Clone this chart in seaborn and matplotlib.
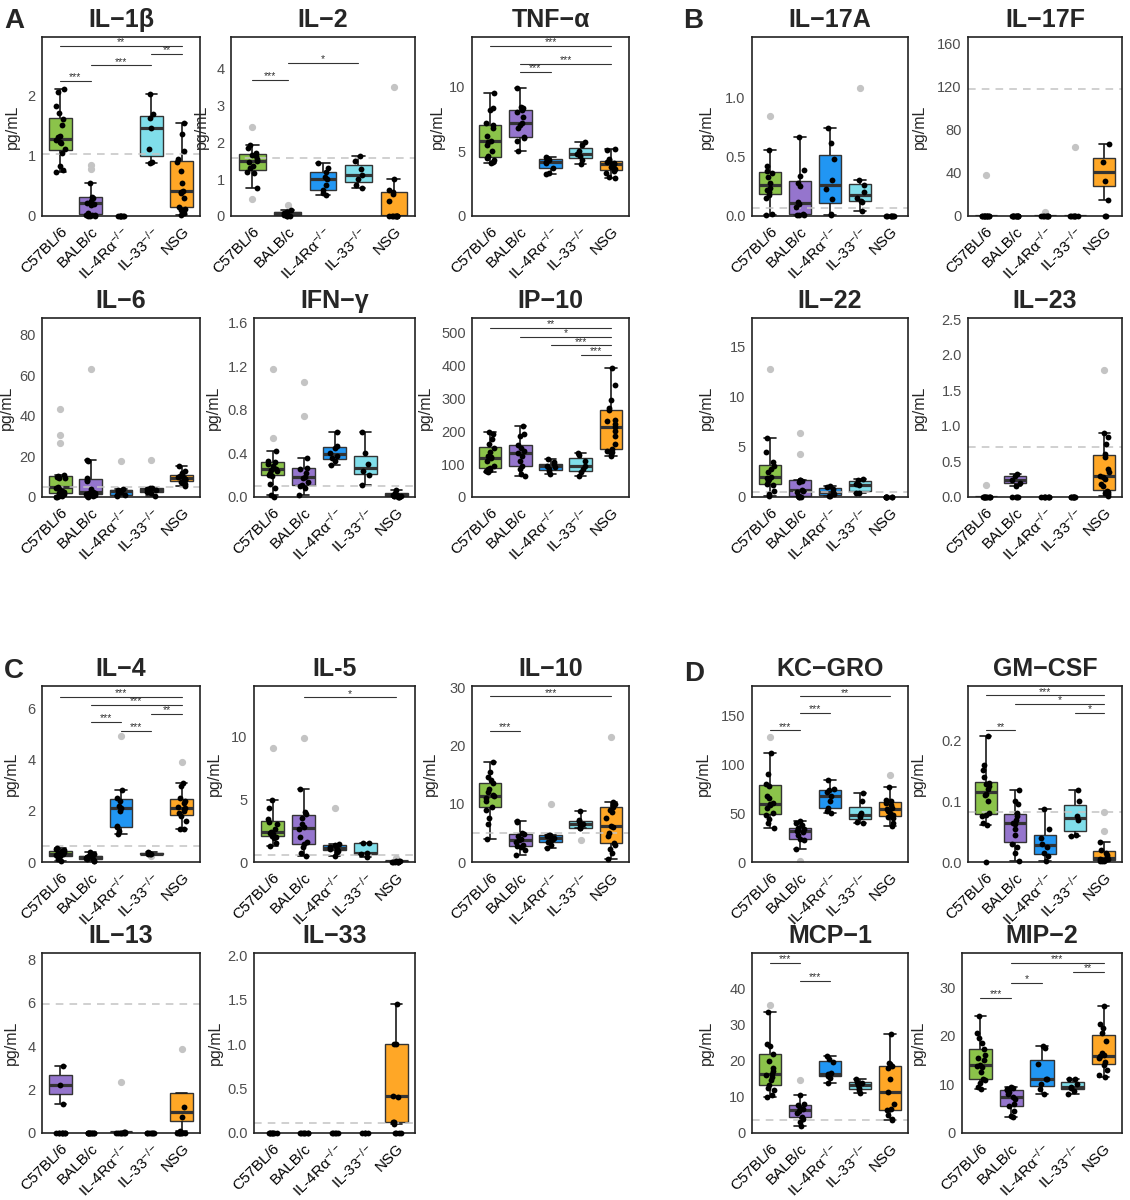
import numpy as np
import pandas as pd
import matplotlib.pyplot as plt
import seaborn as sns
from matplotlib.ticker import FormatStrFormatter

sns.set_style("white")
plt.rcParams["font.family"] = ["Liberation Sans", "DejaVu Sans"]
plt.rcParams["mathtext.fontset"] = "custom"
plt.rcParams["mathtext.rm"] = "Liberation Sans"
plt.rcParams["mathtext.it"] = "Liberation Sans"

np.random.seed(7)

groups = ["C57BL/6", "BALB/c", "IL-4Ra-/-", "IL-33-/-", "NSG"]
group_labels = ["C57BL/6", "BALB/c", "IL-4Rα$^{-/-}$", "IL-33$^{-/-}$", "NSG"]
colors = ["#8BC34A", "#9575CD", "#2196F3", "#80DEEA", "#FFA726"]

# ---- values (pg/mL), one list per strain ----
il1b = [
    [0.72, 0.76, 0.82, 1.05, 1.1, 1.2, 1.22, 1.25, 1.3, 1.32, 1.5, 1.6, 1.7, 1.82, 2.05, 2.1],
    [0, 0, 0.005, 0.01, 0.015, 0.02, 0.05, 0.18, 0.2, 0.22, 0.25, 0.3, 0.32, 0.55, 0.78, 0.85],
    [0, 0, 0, 0, 0, 0, 0],
    [0.87, 0.9, 1.1, 1.45, 1.62, 1.68, 2.02],
    [0.01, 0.05, 0.1, 0.12, 0.15, 0.3, 0.38, 0.4, 0.42, 0.55, 0.75, 0.9, 0.95, 1.07, 1.35, 1.53],
]
il2 = [
    [0.45, 0.75, 1.15, 1.2, 1.3, 1.35, 1.45, 1.5, 1.55, 1.62, 1.65, 1.7, 1.85, 1.93, 2.4],
    [0, 0.005, 0.01, 0.02, 0.03, 0.05, 0.07, 0.08, 0.1, 0.12, 0.17, 0.3],
    [0.57, 0.62, 0.7, 0.85, 1.0, 1.05, 1.2, 1.3, 1.43],
    [0.75, 0.85, 1.0, 1.1, 1.28, 1.5, 1.62],
    [0.01, 0.01, 0.01, 0.01, 0.01, 0.01, 0.01, 0.01, 0.4, 0.6, 0.65, 0.7, 1.0, 3.48],
]
tnfa = [
    [4.05, 4.2, 4.3, 4.5, 4.6, 5.0, 5.5, 5.7, 5.8, 6.2, 6.8, 7.0, 7.2, 8.2, 8.3, 9.5],
    [5.0, 5.8, 6.0, 6.1, 6.8, 7.0, 7.2, 7.6, 8.0, 8.2, 8.3, 8.4, 9.85],
    [3.25, 3.3, 3.7, 4.1, 4.2, 4.3, 4.4, 4.5, 4.55],
    [4.0, 4.3, 4.6, 4.75, 5.0, 5.5, 5.7],
    [2.95, 3.0, 3.3, 3.5, 3.6, 3.8, 3.9, 4.0, 4.0, 4.1, 4.2, 4.3, 4.4, 5.1, 5.15],
]
il6 = [
    [0, 0, 0.3, 0.5, 0.8, 1.5, 2.0, 2.5, 3.0, 4.0, 4.6, 5.0, 9.3, 9.6, 10.0, 10.4, 10.7, 26.6, 30.4, 43.5],
    [0, 0.3, 0.6, 0.9, 1.2, 1.5, 1.8, 2.0, 2.5, 4.0, 8.0, 8.5, 9.5, 18.0, 18.4, 63.2],
    [0.3, 0.8, 1.2, 2.5, 3.0, 3.5, 4.0, 17.7],
    [0.3, 1.8, 2.5, 3.3, 3.8, 4.2, 4.5, 18.1],
    [5.5, 6.5, 7.0, 7.5, 8.5, 9.0, 9.0, 9.5, 10.0, 10.5, 11.0, 12.0, 13.0, 15.5],
]
ifng = [
    [0, 0.02, 0.08, 0.12, 0.19, 0.2, 0.22, 0.24, 0.25, 0.26, 0.28, 0.3, 0.32, 0.33, 0.42, 0.54, 1.17],
    [0.02, 0.08, 0.1, 0.11, 0.14, 0.17, 0.18, 0.22, 0.26, 0.27, 0.36, 0.74, 1.05],
    [0.29, 0.33, 0.36, 0.38, 0.4, 0.45, 0.47, 0.6],
    [0.11, 0.2, 0.24, 0.3, 0.4, 0.6],
    [0, 0, 0, 0.005, 0.008, 0.01, 0.015, 0.02, 0.03, 0.04, 0.06],
]
ip10 = [
    [77, 80, 82, 85, 88, 95, 110, 117, 120, 125, 135, 150, 160, 175, 190, 197],
    [65, 70, 85, 95, 110, 125, 133, 140, 150, 157, 185, 192, 215],
    [70, 78, 85, 92, 94, 100, 105, 115],
    [65, 75, 85, 93, 110, 128, 132],
    [125, 130, 135, 140, 145, 160, 185, 200, 212, 220, 230, 235, 265, 270, 295, 340, 390],
]
il17a = [
    [0.01, 0.02, 0.15, 0.18, 0.2, 0.22, 0.24, 0.28, 0.33, 0.36, 0.38, 0.42, 0.56, 0.84],
    [0.005, 0.005, 0.01, 0.02, 0.08, 0.1, 0.12, 0.25, 0.28, 0.34, 0.39, 0.67],
    [0.005, 0.02, 0.14, 0.23, 0.3, 0.48, 0.62, 0.74],
    [0.04, 0.12, 0.13, 0.15, 0.2, 0.26, 0.3, 1.08],
    [0, 0, 0, 0, 0, 0, 0],
]
il17f = [
    [0, 0, 0, 0, 0, 0, 0.1, 0.2, 0.2, 0.3, 0.3, 38.3],
    [0, 0, 0, 0, 0, 0, 0, 0, 0, 0],
    [0, 0, 0, 0.1, 0.2, 0.2, 0.3, 3.4],
    [0, 0, 0, 0.1, 0.2, 0.2, 0.3, 64.0],
    [0, 0, 14.5, 32.0, 50.0, 66.7],
]
il22 = [
    [0.1, 0.3, 0.6, 1.2, 1.3, 1.6, 1.8, 1.9, 2.0, 2.5, 2.8, 3.1, 3.5, 4.5, 5.9, 12.7],
    [0, 0.02, 0.03, 0.05, 0.1, 0.5, 0.6, 0.7, 1.5, 1.6, 1.65, 1.7, 4.3, 6.4],
    [0.05, 0.1, 0.3, 0.5, 0.8, 0.95, 1.1],
    [0.4, 0.42, 1.2, 1.25, 1.7, 1.8],
    [0, 0, 0, 0, 0, 0, 0],
]
il23 = [
    [0, 0, 0, 0, 0, 0, 0.002, 0.003, 0.004, 0.005, 0.17],
    [0, 0, 0, 0, 0.15, 0.2, 0.24, 0.29, 0.33],
    [0, 0, 0, 0, 0, 0, 0],
    [0, 0, 0, 0, 0, 0, 0],
    [0.02, 0.04, 0.06, 0.07, 0.09, 0.15, 0.18, 0.25, 0.28, 0.3, 0.35, 0.4, 0.57, 0.6, 0.75, 0.85, 0.9, 1.79],
]
il4 = [
    [0.05, 0.1, 0.2, 0.22, 0.25, 0.28, 0.3, 0.33, 0.35, 0.38, 0.4, 0.42, 0.45, 0.5, 0.55],
    [0.02, 0.05, 0.1, 0.12, 0.15, 0.18, 0.2, 0.22, 0.26, 0.3, 0.4],
    [1.1, 1.2, 1.35, 1.4, 2.0, 2.1, 2.2, 2.4, 2.5, 2.8, 4.9],
    [0.22, 0.3, 0.32, 0.33, 0.34, 0.36, 0.38],
    [1.27, 1.3, 1.6, 1.8, 1.9, 2.0, 2.05, 2.1, 2.15, 2.3, 2.4, 2.5, 2.95, 3.1, 3.9],
]
il5 = [
    [1.3, 1.5, 1.9, 2.0, 2.1, 2.2, 2.3, 2.4, 2.6, 3.0, 3.2, 3.4, 4.3, 4.95, 9.1],
    [0.5, 0.7, 1.2, 1.4, 1.6, 2.0, 2.6, 2.8, 3.0, 3.5, 3.8, 4.0, 5.8, 9.9],
    [0.5, 0.8, 0.9, 1.0, 1.05, 1.2, 1.3, 1.35, 1.4, 4.3],
    [0.4, 0.6, 0.7, 1.5, 1.55],
    [0, 0, 0, 0.01, 0.02, 0.03, 0.05, 0.06, 0.08, 0.35],
]
il10 = [
    [4.0, 6.5, 7.5, 9.0, 9.5, 10.5, 11.0, 11.3, 11.5, 12.0, 12.5, 13.5, 14.0, 14.5, 15.5, 17.1],
    [1.2, 2.0, 2.6, 2.8, 3.0, 3.5, 3.7, 4.0, 4.5, 4.8, 5.0, 6.9, 7.1],
    [2.4, 3.0, 3.4, 3.8, 4.0, 4.2, 4.4, 4.6, 4.7, 9.9],
    [3.85, 5.8, 5.9, 6.4, 6.6, 7.0, 7.2, 8.7],
    [0.6, 1.5, 2.2, 3.0, 3.3, 4.5, 5.0, 6.0, 6.2, 7.5, 8.5, 9.0, 9.5, 9.7, 10.0, 10.3, 21.5],
]
il13 = [
    [0, 0, 0, 0, 0, 0, 0, 0, 1.35, 2.2, 3.1],
    [0, 0, 0, 0, 0, 0, 0, 0, 0, 0],
    [0, 0, 0, 0, 0, 0.01, 0.02, 0.03, 0.04, 2.33],
    [0, 0, 0, 0, 0, 0, 0],
    [0, 0, 0, 0, 0, 0, 0, 0.07, 0.72, 1.2, 3.85],
]
il33 = [
    [0, 0, 0, 0, 0, 0, 0, 0],
    [0, 0, 0, 0, 0, 0, 0],
    [0, 0, 0, 0, 0],
    [0, 0, 0, 0],
    [0, 0, 0, 0, 0.1, 0.12, 0.12, 0.41, 0.42, 1.0, 1.0, 1.45],
]
kcgro = [
    [35, 40, 44, 48, 50, 55, 58, 59, 60, 65, 68, 78, 80, 90, 111, 128],
    [1, 13, 22, 24, 28, 31, 32, 33, 34, 35, 38, 40, 42],
    [50, 52, 55, 62, 68, 72, 74, 75, 84],
    [40, 41, 46, 48, 50, 62, 71],
    [37, 40, 45, 46, 48, 50, 52, 54, 55, 58, 60, 62, 63, 77, 89],
]
gmcsf = [
    [0, 0.061, 0.065, 0.075, 0.078, 0.08, 0.1, 0.11, 0.112, 0.12, 0.125, 0.128, 0.13, 0.14, 0.152, 0.16, 0.208],
    [0.002, 0.015, 0.025, 0.03, 0.045, 0.055, 0.062, 0.065, 0.07, 0.075, 0.08, 0.095, 0.1, 0.118],
    [0.001, 0.01, 0.015, 0.025, 0.03, 0.04, 0.055, 0.087],
    [0.043, 0.045, 0.07, 0.075, 0.1, 0.118],
    [0.001, 0.002, 0.002, 0.003, 0.004, 0.005, 0.005, 0.008, 0.012, 0.015, 0.02, 0.033, 0.051, 0.083],
]
mcp1 = [
    [10, 10.5, 12.0, 12.5, 13.2, 14.5, 15.5, 16, 16.3, 17, 18, 20, 21.8, 24, 24.5, 33.3, 35.3],
    [1.8, 3.0, 4.0, 4.5, 5.5, 6.0, 6.5, 7.0, 7.8, 8.0, 10.4, 14.6],
    [13.8, 15.2, 15.8, 16.2, 16.6, 19.5, 20.5, 21.2],
    [11, 12.0, 12.5, 13.2, 13.8, 14.2, 14.8],
    [3.5, 4, 5, 6.4, 6.5, 8, 11.2, 15, 18, 18.5, 19, 19.2, 27.2],
]
mip2 = [
    [9.1, 9.5, 10.2, 10.8, 11.0, 12.5, 13.5, 13.8, 14.0, 15.0, 15.5, 16.0, 17.2, 18.5, 19.5, 20.5, 24.1],
    [3.3, 3.5, 4.5, 5.5, 6.0, 7.0, 7.3, 8.0, 8.5, 8.8, 9.0, 9.3, 9.5],
    [8.0, 9.0, 10.0, 11.0, 11.2, 14.2, 17.5, 17.9],
    [8.1, 8.7, 9.2, 9.5, 10.0, 11.0, 11.2],
    [11.5, 12.0, 13.0, 14.0, 14.5, 15.5, 15.8, 16.0, 16.5, 19.0, 20.5, 21.5, 22.5, 26.2],
]

# significance brackets: (group a, group b, height, label)
il1b_sig = [(0, 1, 2.23, "***"), (1, 3, 2.49, "***"), (3, 4, 2.68, "**"), (0, 4, 2.81, "**")]
il2_sig = [(0, 1, 3.68, "***"), (1, 3, 4.13, "*")]
tnfa_sig = [(1, 2, 11.1, "***"), (1, 4, 11.75, "***"), (0, 4, 13.1, "***")]
ip10_sig = [(3, 4, 432, "***"), (2, 4, 460, "***"), (1, 4, 486, "*"), (0, 4, 513, "**")]
il4_sig = [(2, 3, 5.13, "***"), (1, 2, 5.46, "***"), (3, 4, 5.79, "**"), (1, 4, 6.14, "***"), (0, 4, 6.46, "***")]
il5_sig = [(1, 4, 13.1, "*")]
il10_sig = [(0, 1, 22.5, "***"), (0, 4, 28.4, "***")]
kcgro_sig = [(0, 1, 134.6, "***"), (1, 2, 152.3, "***"), (1, 4, 169.4, "**")]
gmcsf_sig = [(0, 1, 0.217, "**"), (3, 4, 0.246, "*"), (1, 4, 0.26, "*"), (0, 4, 0.2746, "***")]
mcp1_sig = [(1, 2, 42.1, "***"), (0, 1, 47.0, "***")]
mip2_sig = [(0, 1, 27.7, "***"), (1, 2, 30.8, "*"), (3, 4, 33.1, "**"), (1, 4, 35.0, "***")]

# detection limits (dashed lines)
lods = {"IL−1β": 1.03, "IL−2": 1.58, "IL−6": 4.8, "IFN−γ": 0.1, "IL−17A": 0.065,
        "IL−17F": 118, "IL−22": 0.45, "IL−23": 0.7, "IL−4": 0.63, "IL-5": 0.55,
        "IL−10": 4.9, "IL−13": 5.95, "IL−33": 0.11, "GM−CSF": 0.083, "MCP−1": 3.6}

# title, values, y max, y ticks, tick format, brackets,
# panel box in px (left, right, top, bottom), y-label offset in px
panels = [
    ("IL−1β", il1b, 2.96, [0, 1, 2], "%g", il1b_sig, (42, 200, 37, 216), 22),
    ("IL−2", il2, 4.84, [0, 1, 2, 3, 4], "%g", il2_sig, (231, 415, 37, 216), 22),
    ("TNF−α", tnfa, 13.8, [0, 5, 10], "%g", tnfa_sig, (472, 629, 37, 216), 27),
    ("IL−17A", il17a, 1.51, [0, 0.5, 1.0], "%.1f", [], (752, 908, 37, 216), 38),
    ("IL−17F", il17f, 166, [0, 40, 80, 120, 160], "%g", [], (968, 1122, 37, 216), 41),
    ("IL−6", il6, 88.3, [0, 20, 40, 60, 80], "%g", [], (42, 200, 318, 497), 28),
    ("IFN−γ", ifng, 1.64, [0, 0.4, 0.8, 1.2, 1.6], "%.1f", [], (254, 415, 318, 497), 33),
    ("IP−10", ip10, 543, [0, 100, 200, 300, 400, 500], "%g", ip10_sig, (472, 629, 318, 497), 39),
    ("IL−22", il22, 17.8, [0, 5, 10, 15], "%g", [], (752, 908, 318, 497), 38),
    ("IL−23", il23, 2.52, [0, 0.5, 1.0, 1.5, 2.0, 2.5], "%.1f", [], (968, 1122, 318, 497), 41),
    ("IL−4", il4, 6.87, [0, 2, 4, 6], "%g", il4_sig, (42, 200, 686, 862), 23),
    ("IL-5", il5, 14, [0, 5, 10], "%g", il5_sig, (254, 415, 686, 862), 32),
    ("IL−10", il10, 30.2, [0, 10, 20, 30], "%g", il10_sig, (472, 629, 686, 862), 34),
    ("KC−GRO", kcgro, 180, [0, 50, 100, 150], "%g", kcgro_sig, (752, 908, 686, 862), 41),
    ("GM−CSF", gmcsf, 0.29, [0, 0.1, 0.2], "%.1f", gmcsf_sig, (968, 1122, 686, 862), 42),
    ("IL−13", il13, 8.29, [0, 2, 4, 6, 8], "%g", [], (42, 200, 953, 1133), 23),
    ("IL−33", il33, 2.03, [0, 0.5, 1.0, 1.5, 2.0], "%.1f", [], (254, 415, 953, 1133), 31),
    ("MCP−1", mcp1, 49.7, [0, 10, 20, 30, 40], "%g", mcp1_sig, (752, 908, 953, 1133), 38),
    ("MIP−2", mip2, 37, [0, 10, 20, 30], "%g", mip2_sig, (962, 1122, 953, 1133), 36),
]

W, H = 1130, 1200
fig = plt.figure(figsize=(W / 100, H / 100), dpi=100)


def draw_panel(ax, title, values, ymax, ticks, fmt, sig, lab_off, width_px):
    rows = [(g, v) for g, vals in zip(groups, values) for v in vals]
    df = pd.DataFrame(rows, columns=["group", "value"])

    pal = dict(zip(groups, colors))
    if title == "IL−13":
        pal["C57BL/6"] = colors[1]

    # boxes are built from detected (non-zero) values only
    det = df[df["value"] > 0].copy()
    det = det[det.groupby("group")["value"].transform("count") > 1]
    q1 = det.groupby("group")["value"].transform(lambda s: np.percentile(s, 25))
    q3 = det.groupby("group")["value"].transform(lambda s: np.percentile(s, 75))
    iqr = q3 - q1
    det["out"] = (det["value"] < q1 - 1.5 * iqr) | (det["value"] > q3 + 1.5 * iqr)

    sns.boxplot(data=det, x="group", y="value", hue="group", order=groups,
                hue_order=groups, palette=pal, saturation=1, width=0.75, whis=1.5,
                linewidth=1.0, linecolor="#333333", fliersize=4.2,
                flierprops=dict(marker="o", markerfacecolor="#C4C4C4",
                                markeredgecolor="#C4C4C4"),
                medianprops=dict(linewidth=2.3),
                whiskerprops=dict(linewidth=1.2, color="#1a1a1a"),
                capprops=dict(linewidth=1.2, color="#1a1a1a"),
                legend=False, ax=ax)

    lod = lods.get(title)
    if lod is not None:
        ax.axhline(lod, color="#C4C4C4", linestyle=(0, (5, 4)), linewidth=1.1, zorder=2.5)

    pts = pd.concat([df[df["value"] <= 0], det[~det["out"]][["group", "value"]]])
    sns.stripplot(data=pts, x="group", y="value", order=groups, color="black",
                  size=4.2, jitter=0.15, linewidth=0, ax=ax, zorder=4)
    for c in ax.collections:
        c.set_clip_on(False)

    for a, b, h, lab in sig:
        ax.plot([a, b], [h, h], color="#333333", linewidth=0.8, zorder=5)
        ax.annotate(lab, xy=((a + b) / 2, h), xytext=(0, 0.5), textcoords="offset points",
                    ha="center", va="baseline", fontsize=7.5, color="#333333")

    ax.set_xlim(-0.6, 4.6)
    ax.set_ylim(0, ymax)
    ax.set_yticks(ticks)
    ax.yaxis.set_major_formatter(FormatStrFormatter(fmt))
    ax.set_xticks(range(len(groups)))
    ax.set_xticklabels(group_labels, rotation=45, ha="right", va="top",
                       rotation_mode="anchor")
    ax.set_xlabel("")
    ax.set_ylabel("pg/mL", fontsize=11.5)
    ax.yaxis.set_label_coords(-lab_off / width_px, 0.5)
    ax.set_title(title, fontsize=18, fontweight="bold", pad=7)
    ax.tick_params(axis="both", length=3, width=0.8, color="#333333")
    ax.tick_params(axis="y", labelcolor="#4D4D4D", labelsize=10.5, pad=1.5)
    ax.tick_params(axis="x", labelcolor="black", labelsize=11, pad=3)
    for sp in ax.spines.values():
        sp.set_visible(True)
        sp.set_color("#222222")
        sp.set_linewidth(1.2)


for title, values, ymax, ticks, fmt, sig, (l, r, t, b), off in panels:
    ax = fig.add_axes([l / W, 1 - b / H, (r - l) / W, (b - t) / H])
    draw_panel(ax, title, values, ymax, ticks, fmt, sig, off, r - l)

for lab, x, y in [("A", 4, 28), ("B", 683, 28), ("C", 4, 678), ("D", 684, 681)]:
    fig.text(x / W, 1 - y / H, lab, fontsize=20, fontweight="bold", ha="left", va="baseline")

fig.savefig("out.png", dpi=100)
